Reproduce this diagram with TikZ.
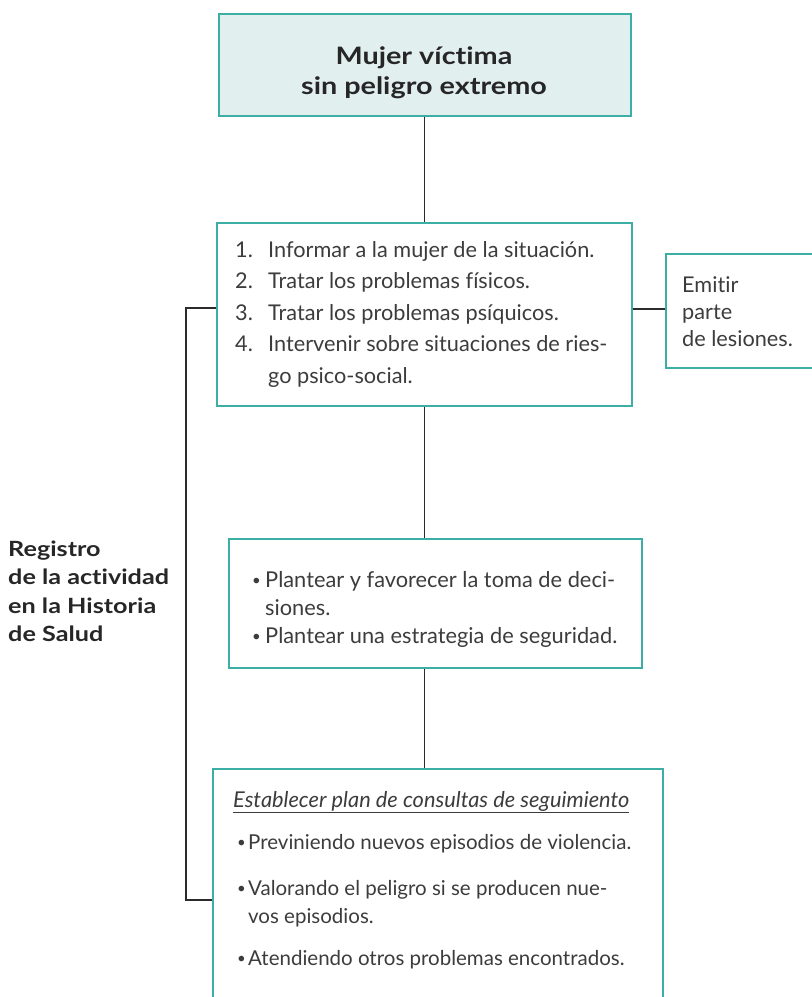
\documentclass[tikz,border=0pt]{standalone}
\usepackage{fontspec}
\setmainfont{Lato}[Ligatures=NoCommon]
\newfontfamily\widebold{Lato}[Ligatures=NoCommon, FakeStretch=1.2]
\newcommand{\smbul}{{\fontsize{15}{15}\selectfont\raisebox{1.5pt}{•}}}
\definecolor{tealline}{HTML}{3DAEA6}
\definecolor{tealfill}{HTML}{E1EFEE}
\definecolor{ink}{HTML}{3C3C3C}
\definecolor{inkbold}{HTML}{262626}
\definecolor{conncol}{HTML}{2B2B2B}
\begin{document}
\begin{tikzpicture}[x=1pt,y=-1pt,
  box/.style={draw=tealline, line width=1.6pt, anchor=north west, inner sep=0pt},
  conn/.style={draw=conncol, line width=1.2pt},
  body/.style={anchor=north west, inner sep=0pt, align=left, text=ink,
    font=\fontsize{21.7}{31.5}\selectfont},
  bodytight/.style={body, font=\fontsize{21.8}{28}\selectfont},
  boldlabel/.style={inner sep=0pt, text=inkbold, font=\widebold\bfseries\fontsize{21}{28.5}\selectfont}
]
\useasboundingbox (0,0) rectangle (812,997);

% boxes
\node[box, fill=tealfill, minimum width=412pt, minimum height=102pt] (top) at (218,13) {};
\node[box, minimum width=415pt, minimum height=183pt] (b2) at (216,222) {};
\node[box, minimum width=170pt, minimum height=114pt] (rb) at (665,253) {};
\node[box, minimum width=413pt, minimum height=129pt] (b3) at (228,538) {};
\node[box, minimum width=450pt, minimum height=250pt] (b4) at (212,768) {};

% texts
\node[boldlabel, align=center, anchor=north, font=\widebold\bfseries\fontsize{24}{29.5}\selectfont] (tt) at (424,44)
  {\strut Mujer víctima\\sin peligro extremo};

\node[body] (t2) at (235,235)
  {\strut\makebox[33pt][l]{1.}Informar a la mujer de la situación.\\
   \makebox[33pt][l]{2.}Tratar los problemas físicos.\\
   \makebox[33pt][l]{3.}Tratar los problemas psíquicos.\\
   \makebox[33pt][l]{4.}Intervenir sobre situaciones de ries-\\
   \makebox[33pt][l]{}go psico-social.};

\node[body, font=\fontsize{21.7}{27}\selectfont] (trb) at (682,273.1)
  {\strut Emitir\\parte\\de lesiones.};

\node[bodytight] (t3) at (252,567.4)
  {\strut\makebox[13pt][l]{\smbul}Plantear y favorecer la toma de deci-\\
   \makebox[13pt][l]{}siones.\\
   \makebox[13pt][l]{\smbul}Plantear una estrategia de seguridad.};

\node[bodytight, font=\fontsize{20.5}{28}\selectfont] (t4) at (233,787.4)
  {\strut\underline{\fontsize{21.8}{28}\selectfont\itshape Establecer plan de consultas de seguimiento}\\[14pt]
   \hspace*{4pt}\makebox[11pt][l]{\smbul}Previniendo nuevos episodios de violencia.\\[18pt]
   \hspace*{4pt}\makebox[11pt][l]{\smbul}Valorando el peligro si se producen nue-\\
   \hspace*{4pt}\makebox[11pt][l]{}vos episodios.\\[14pt]
   \hspace*{4pt}\makebox[11pt][l]{\smbul}Atendiendo otros problemas encontrados.};

\node[boldlabel, anchor=north west, align=left] (reg) at (8,536)
  {\strut Registro\\de la actividad\\en la Historia\\de Salud};

% connectors
\coordinate (k1) at (186,308);
\coordinate (k2) at (186,900);
\coordinate (k3) at (700,309);
\draw[conn] (top.south) -- (top.south |- b2.north);
\draw[conn] (top.south |- b2.south) -- (top.south |- b3.north);
\draw[conn] (top.south |- b3.south) -- (top.south |- b4.north);
\draw[conn] (b2.west |- k1) -- (k1) -- (k2) -- (b4.west |- k2);
\draw[conn] (b2.east |- k3) -- (rb.west |- k3);
\end{tikzpicture}
\end{document}
